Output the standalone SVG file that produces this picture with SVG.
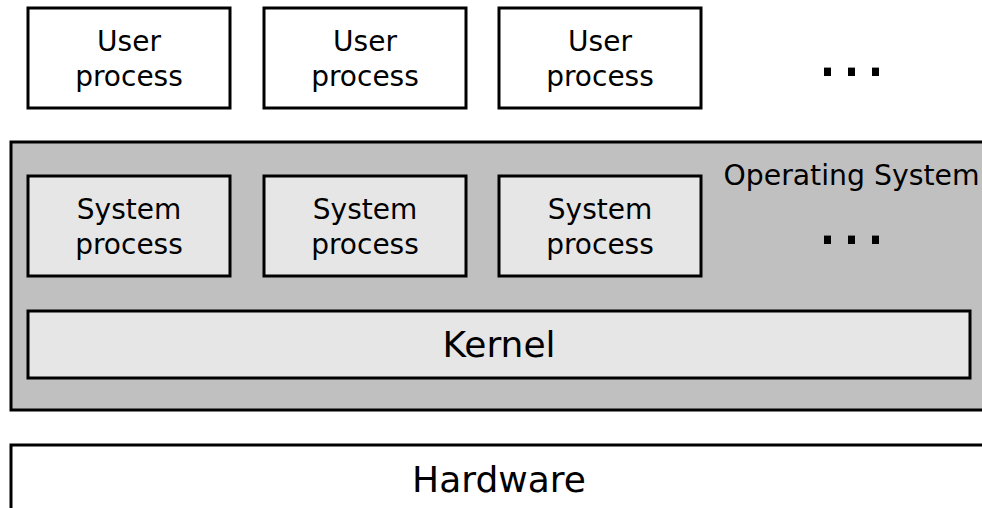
<svg xmlns="http://www.w3.org/2000/svg" width="982" height="508" viewBox="0 0 982 508">
<style>
.box{stroke:#000;stroke-width:3}
.user{fill:#fff}
.sys{fill:#e6e6e6}
.os{fill:#c0c0c0}
.t{font-family:"DejaVu Sans",sans-serif;font-size:28px;fill:#000;text-anchor:middle}
.big{font-size:36px}
.dots{font-family:"DejaVu Sans",sans-serif;font-size:68px;fill:#000;letter-spacing:2.4px}
</style>
<rect width="982" height="508" fill="#fff"/>
<g id="user1"><rect class="box user" x="28" y="8" width="202" height="100"/><text class="t" x="129" y="50.5">User</text><text class="t" x="129" y="85.5">process</text></g>
<g id="user2"><rect class="box user" x="264" y="8" width="202" height="100"/><text class="t" x="365" y="50.5">User</text><text class="t" x="365" y="85.5">process</text></g>
<g id="user3"><rect class="box user" x="499" y="8" width="202" height="100"/><text class="t" x="600" y="50.5">User</text><text class="t" x="600" y="85.5">process</text></g>
<g id="user-more"><text class="dots" x="816.7" y="76">...</text></g>
<g id="os"><rect class="box os" x="11" y="142" width="1000" height="268"/><text class="t" x="723.5" y="185" style="text-anchor:start;font-size:28.3px">Operating System</text></g>
<g id="sys1"><rect class="box sys" x="28" y="176" width="202" height="100"/><text class="t" x="129" y="218.5">System</text><text class="t" x="129" y="253.5">process</text></g>
<g id="sys2"><rect class="box sys" x="264" y="176" width="202" height="100"/><text class="t" x="365" y="218.5">System</text><text class="t" x="365" y="253.5">process</text></g>
<g id="sys3"><rect class="box sys" x="499" y="176" width="202" height="100"/><text class="t" x="600" y="218.5">System</text><text class="t" x="600" y="253.5">process</text></g>
<g id="sys-more"><text class="dots" x="816.7" y="244">...</text></g>
<g id="kernel"><rect class="box sys" x="28" y="311" width="942" height="67"/><text class="t big" x="499" y="356.5">Kernel</text></g>
<g id="hardware"><rect class="box user" x="11" y="445" width="1000" height="100"/><text class="t big" x="499" y="491.5">Hardware</text></g>
<g id="connectors"></g>
</svg>
